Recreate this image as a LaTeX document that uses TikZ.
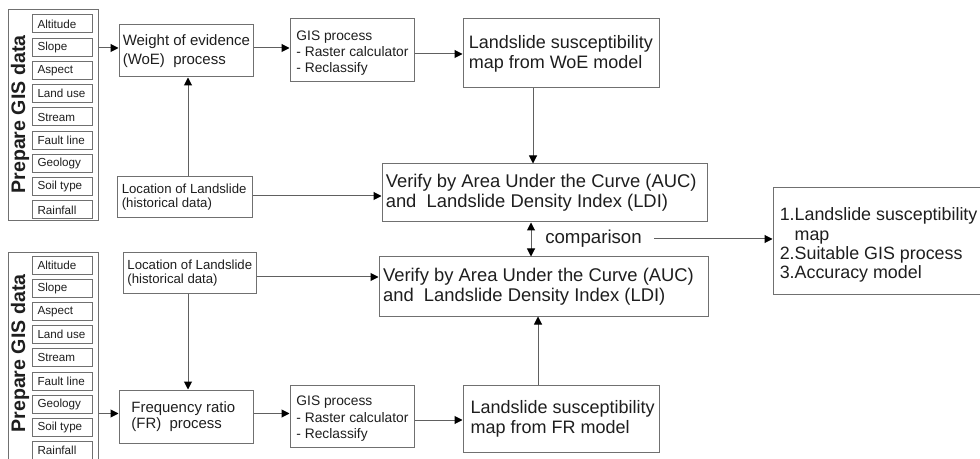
\documentclass[tikz,border=0pt]{standalone}
\usepackage{fontspec}
\setmainfont{Liberation Sans}
\usetikzlibrary{arrows.meta}
\definecolor{boxc}{HTML}{707070}
\definecolor{linec}{HTML}{606060}
\definecolor{txtc}{HTML}{1E1E1E}
\begin{document}
\begin{tikzpicture}[x=0.75pt,y=-0.75pt,
  box/.style={draw=boxc,line width=0.75pt,rectangle,inner sep=0pt},
  txt/.style={inner sep=0pt,anchor=west,align=left,text=txtc},
  smallbox/.style={box,minimum width=45pt,minimum height=13.5pt},
  smallfont/.style={font=\fontsize{8.75}{10}\selectfont},
  arr/.style={draw=linec,line width=0.75pt,-{Triangle[length=6pt,width=6pt,color=black]}},
  darr/.style={draw=linec,line width=0.75pt,{Triangle[length=6pt,width=6pt,color=black]}-{Triangle[length=6pt,width=6pt,color=black]}},
  prep/.style={font=\bfseries\fontsize{14.7}{16}\selectfont,rotate=90,inner sep=0pt,text=txtc}]
\useasboundingbox (0,0) rectangle (980,459);
\clip (0,0) rectangle (980,459);

% ---------- top: GIS data ----------
\node[box,minimum width=67.5pt,minimum height=158.25pt] (outerT) at (53,115.5) {};
\node[prep] (prepT) at (20,114.5) {Prepare GIS data};
\foreach \t [count=\i] in {Altitude,Slope,Aspect,Land use,Stream,Fault line,Geology,Soil type,Rainfall}{
  \node[smallbox] (ta\i) at (62,{24+23.25*(\i-1)}) {};
  \node[txt,smallfont] (tat\i) at ([xshift=4.3pt]ta\i.west) {\t};
}

% ---------- bottom: GIS data ----------
\node[box,minimum width=67.5pt,minimum height=162.75pt] (outerB) at (53,361.5) {};
\node[prep] (prepB) at (20,353.5) {Prepare GIS data};
\foreach \t [count=\i] in {Altitude,Slope,Aspect,Land use,Stream,Fault line,Geology,Soil type,Rainfall}{
  \node[smallbox] (ba\i) at (62,{265.5+23.1*(\i-1)}) {};
  \node[txt,smallfont] (bat\i) at ([xshift=4.3pt]ba\i.west) {\t};
}

% ---------- top chain ----------
\node[box,minimum width=100.5pt,minimum height=39pt] (woe) at (186,51) {};
\node[txt,font=\fontsize{11.25}{13.75}\selectfont] (woeT) at ([xshift=3pt]woe.west) {Weight of evidence\\(WoE)\ \ process};

\node[box,minimum width=93pt,minimum height=47.25pt] (gisT) at (352,50.5) {};
\node[txt,font=\fontsize{10.35}{12.2}\selectfont] (gisTT) at ([xshift=5pt,yshift=-2pt]gisT.west) {GIS process\\- Raster calculator\\- Reclassify};

\node[box,minimum width=147pt,minimum height=51.75pt] (lsW) at (561,53.5) {};
\node[txt,font=\fontsize{13.5}{15}\selectfont] (lsWT) at ([xshift=4.5pt]lsW.west) {Landslide susceptibility\\map from WoE model};

\node[box,minimum width=101.25pt,minimum height=30.75pt] (locT) at (184.5,197.5) {};
\node[txt,font=\fontsize{9.9}{10.5}\selectfont] (locTT) at ([xshift=3.75pt]locT.west) {Location of Landslide\\(historical data)};

\node[box,minimum width=243.75pt,minimum height=43.5pt] (verT) at (544.5,193) {};
\node[txt,font=\fontsize{13.8}{15}\selectfont] (verTT) at ([xshift=3pt]verT.west) {Verify by Area Under the Curve (AUC)\\and\ \ Landslide Density Index (LDI)};

% ---------- bottom chain ----------
\node[box,minimum width=246.75pt,minimum height=44.25pt] (verB) at (543.5,286.5) {};
\node[txt,font=\fontsize{13.8}{15}\selectfont] (verBT) at ([xshift=3.2pt]verB.west) {Verify by Area Under the Curve (AUC)\\and\ \ Landslide Density Index (LDI)};

\node[box,minimum width=99.75pt,minimum height=30pt] (locB) at (189.5,273) {};
\node[txt,font=\fontsize{9.9}{10.5}\selectfont] (locBT) at ([xshift=3.5pt]locB.west) {Location of Landslide\\(historical data)};

\node[box,minimum width=100.5pt,minimum height=39.75pt] (fr) at (186,416.5) {};
\node[txt,font=\fontsize{11.2}{12.5}\selectfont] (frT) at ([xshift=9.5pt]fr.west) {Frequency ratio\\(FR)\ \ process};

\node[box,minimum width=93pt,minimum height=46.5pt] (gisB) at (352,416) {};
\node[txt,font=\fontsize{10.35}{12.2}\selectfont] (gisBT) at ([xshift=5pt,yshift=-2pt]gisB.west) {GIS process\\- Raster calculator\\- Reclassify};

\node[box,minimum width=147pt,minimum height=50.25pt] (lsF) at (561,418.5) {};
\node[txt,font=\fontsize{13.5}{15}\selectfont] (lsFT) at ([xshift=5.8pt]lsF.west) {Landslide susceptibility\\map from FR model};

% ---------- result ----------
\node[box,minimum width=159pt,minimum height=79.5pt] (res) at (879,241) {};
\node[txt,font=\fontsize{13.4}{14.4}\selectfont] (resT) at ([xshift=5.25pt,yshift=-3pt]res.west) {1.Landslide susceptibility\\\phantom{1.}map\\2.Suitable GIS process\\3.Accuracy model};

\node[txt,font=\fontsize{14}{16}\selectfont] (cmp) at (545,239) {comparison};

% ---------- helper coordinates ----------
\coordinate (yA) at (0,48);
\coordinate (yG) at (0,54);
\coordinate (xW) at (533,0);
\coordinate (xL) at (188,0);
\coordinate (yLT) at (0,196);
\coordinate (yLB) at (0,277);
\coordinate (yF) at (0,413.5);
\coordinate (yGB) at (0,420);
\coordinate (xF) at (538,0);
\coordinate (xD) at (531,0);

% ---------- connectors ----------
\draw[arr] (outerT.east |- yA) -- (woe.west |- yA);
\draw[arr] (woe.east |- yA) -- (gisT.west |- yA);
\draw[arr] (gisT.east |- yG) -- (lsW.west |- yG);
\draw[arr] (lsW.south -| xW) -- (verT.north -| xW);
\draw[arr] (locT.north -| xL) -- (woe.south -| xL);
\draw[arr] (locT.east |- yLT) -- (verT.west |- yLT);

\draw[arr] (locB.east |- yLB) -- (verB.west |- yLB);
\draw[arr] (locB.south -| xL) -- (fr.north -| xL);
\draw[arr] (outerB.east |- yF) -- (fr.west |- yF);
\draw[arr] (fr.east |- yF) -- (gisB.west |- yF);
\draw[arr] (gisB.east |- yGB) -- (lsF.west |- yGB);
\draw[arr] (lsF.north -| xF) -- (verB.south -| xF);

\draw[darr] (verT.south -| xD) -- (verB.north -| xD);
\draw[arr] ([xshift=9pt]cmp.east) -- (res.west |- cmp.east);
\end{tikzpicture}
\end{document}
